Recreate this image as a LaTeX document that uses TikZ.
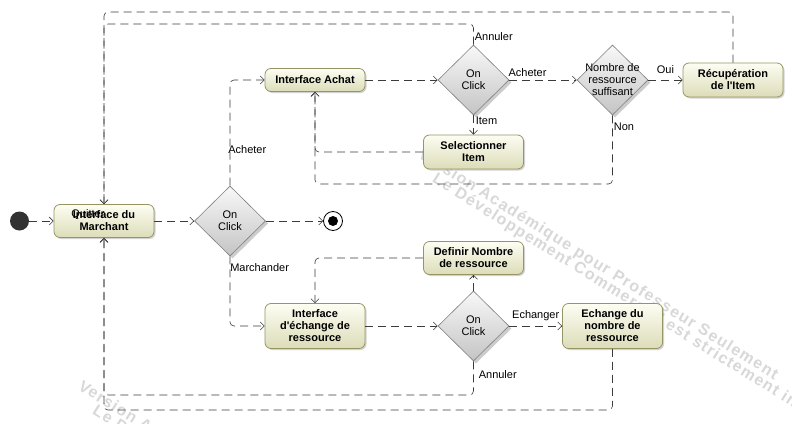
\documentclass[tikz,border=0pt]{standalone}
\usepackage{fontspec}
\setmainfont{Liberation Sans}
\newfontfamily\filigrane[LetterSpace=8]{Liberation Sans}
\usetikzlibrary{shapes.geometric,arrows.meta,shadows}

\definecolor{trait}{RGB}{60,60,60}
\definecolor{cadre}{RGB}{150,150,100}
\definecolor{cremehaut}{RGB}{253,253,243}
\definecolor{cremebas}{RGB}{220,220,185}
\definecolor{grishaut}{RGB}{248,248,248}
\definecolor{grisbas}{RGB}{196,196,196}
\definecolor{grisbord}{RGB}{128,128,128}
\definecolor{debutnoir}{RGB}{50,50,50}
\definecolor{filig}{RGB}{216,216,216}

\begin{document}
\begin{tikzpicture}[x=1pt,y=-1pt,
  activite/.style={rounded corners=6pt, draw=cadre, line width=0.8pt, top color=cremehaut, bottom color=cremebas,
    align=center, minimum width=100pt, inner sep=2pt, font=\fontsize{11}{12}\selectfont\bfseries,
    drop shadow={shadow xshift=1.5pt, shadow yshift=-1.5pt, opacity=0.35}},
  choix/.style={diamond, draw=grisbord, line width=0.6pt, top color=grishaut, bottom color=grisbas,
    minimum width=71pt, minimum height=70pt, inner sep=0pt,
    label={[font=\fontsize{11}{12}\selectfont, align=center]center:#1},
    drop shadow={shadow xshift=2.5pt, shadow yshift=-2.5pt, opacity=0.4}},
  flux/.style={draw=trait, line width=0.6pt, dash pattern=on 8pt off 5pt, rounded corners=4pt,
    -{Straight Barb[length=4pt,width=8pt]}},
  etiq/.style={font=\fontsize{11}{12}\selectfont, inner sep=1pt},
  marque/.style={font={\fontsize{16}{17}\filigrane\bfseries}, text=filig, inner sep=0pt, rotate=-32}]
  \path[fill=white, use as bounding box] (0,0) rectangle (792,423);

  % filigrane
  \begin{scope}
    \clip (0,0) rectangle (792,423);
    \foreach \dx/\dy in {0/0,-340/232} {
      \begin{scope}[shift={(\dx,\dy)}]
        \node[marque] (filun) at (598,265) {Version Académique pour Professeur Seulement};
        \node[marque] (fildeux) at (635,304) {Le Développement Commercial est strictement interdit};
      \end{scope}}
  \end{scope}

  % noeuds
  \node[circle, fill=debutnoir, minimum size=19pt, inner sep=0pt] (debut) at (19.5,221) {};
  \node[activite, minimum height=33pt] (marchant) at (104,221) {Interface du\\Marchant};
  \node[choix={On\\Click}] (d0) at (230,221) {};
  \node[circle, draw=black, line width=0.8pt, fill=white, minimum size=19pt, inner sep=0pt,
    path picture={\fill[black] (path picture bounding box.center) circle (5pt);}] (fin) at (333,221) {};
  \node[activite, minimum height=23pt] (achat) at (315,80) {Interface Achat};
  \node[choix={On\\Click}] (d1) at (473.5,80) {};
  \node[choix={Nombre de\\ressource\\suffisant}] (d2) at (612.5,80) {};
  \node[activite, minimum height=34pt] (recup) at (733,80) {Récupération\\de l\textquotesingle Item};
  \node[activite, minimum height=34pt] (select) at (473.5,152) {Selectionner\\Item};
  \node[activite, minimum height=33pt] (definir) at (473.5,258) {Definir Nombre\\de ressource};
  \node[activite, minimum height=45pt] (echange) at (315,326) {Interface\\d\textquotesingle échange de\\ressource};
  \node[choix={On\\Click}] (d3) at (473.5,326) {};
  \node[activite, minimum height=45pt] (nombre) at (612.5,326) {Echange du\\nombre de\\ressource};
  \node[etiq, anchor=base] (quitter) at (88,217) {Quitter};

  \coordinate (hautA) at (300,12);
  \coordinate (hautB) at (300,24);
  \coordinate (basA) at (300,395);
  \coordinate (basB) at (300,410);
  \coordinate (nonbas) at (315,184);

  % flux
  \draw[flux] (debut) -- (marchant);
  \draw[flux] (marchant) -- (d0);
  \draw[flux] (d0) -- (fin);
  \draw[flux] (d0.north) |- node[etiq, pos=0.17, anchor=west, xshift=-3pt]{Acheter} (achat.west);
  \draw[flux] (d0.south) |- node[etiq, pos=0.08, anchor=west, xshift=-1pt]{Marchander} (echange.west);
  \draw[flux] (achat) -- (d1);
  \draw[flux] (d1) -- node[etiq, pos=0, anchor=west, xshift=-2pt, yshift=7.5pt]{Acheter} (d2);
  \draw[flux] (d1) -- node[etiq, pos=0, anchor=west, xshift=1pt, yshift=-5pt]{Item} (select);
  \draw[flux] (d2) -- node[etiq, midway, anchor=south, yshift=5pt]{Oui} (recup);
  \draw[flux] (select.west) -| (achat.south);
  \draw[flux] (d2.south) |- node[etiq, pos=0, anchor=west, yshift=-11pt]{Non} (nonbas) -- (achat.south);
  \draw[flux] (recup.north) |- (hautA) -| (marchant.north);
  \draw[flux] (d1.north) |- node[etiq, pos=0, anchor=west, yshift=8pt]{Annuler} (hautB) -| (marchant.north);
  \draw[flux] (echange) -- (d3);
  \draw[flux] (d3) -- (definir);
  \draw[flux] (definir.west) -| (echange.north);
  \draw[flux] (d3) -- node[etiq, midway, anchor=south, yshift=4pt]{Echanger} (nombre);
  \draw[flux] (d3.south) |- node[etiq, pos=0, anchor=west, xshift=4pt, yshift=-13pt]{Annuler} (basA) -| (marchant.south);
  \draw[flux] (nombre.south) |- (basB) -| (marchant.south);
\end{tikzpicture}
\end{document}
